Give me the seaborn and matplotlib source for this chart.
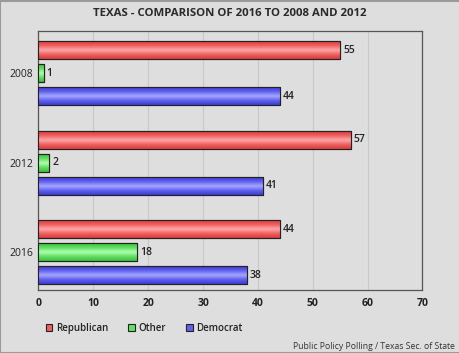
import matplotlib
matplotlib.use("Agg")
import matplotlib.pyplot as plt
import numpy as np
import pandas as pd
import seaborn as sns
from matplotlib.colors import LinearSegmentedColormap
from matplotlib.patches import Rectangle

# ---------------------------------------------------------------------------
# Data
# ---------------------------------------------------------------------------
YEARS = ["2008", "2012", "2016"]
PARTIES = ["Republican", "Other", "Democrat"]
REPUBLICAN = [55, 57, 44]
OTHER = [1, 2, 18]
DEMOCRAT = [44, 41, 38]

TITLE = "TEXAS - COMPARISON OF 2016 TO 2008 AND 2012"
SOURCE = "Public Policy Polling / Texas Sec. of State"

# base colour, light highlight, dark shade per party
COLORS = {
    "Republican": ("#f06060", "#ffa8a8", "#d83c3c"),
    "Other": ("#60e060", "#b0ffb0", "#3cc03c"),
    "Democrat": ("#6060f0", "#a8a8ff", "#3c3cd0"),
}
BG = "#dedede"

df = pd.DataFrame(
    {
        "year": YEARS * 3,
        "party": [p for p in PARTIES for _ in YEARS],
        "value": REPUBLICAN + OTHER + DEMOCRAT,
    }
)

sns.set_theme(style="white")
plt.rcParams["font.family"] = ["Open Sans", "DejaVu Sans"]

fig = plt.figure(figsize=(4.6, 3.53), dpi=100, facecolor=BG)
ax = fig.add_axes([38.5 / 460, 63 / 353, 384 / 460, 259 / 353])
ax.set_facecolor(BG)

sns.barplot(
    data=df,
    x="value",
    y="year",
    hue="party",
    hue_order=PARTIES,
    order=YEARS,
    orient="h",
    palette={p: c[0] for p, c in COLORS.items()},
    width=0.77,
    gap=0.22,
    edgecolor="#222222",
    linewidth=0.8,
    legend=False,
    ax=ax,
    zorder=3,
)

# glossy vertical gradient on each bar
for container, party in zip(ax.containers, PARTIES):
    base, light, dark = COLORS[party]
    cmap = LinearSegmentedColormap.from_list(party, [dark, base, light, base, dark])
    grad = np.linspace(0, 1, 64).reshape(-1, 1)
    for bar, val in zip(container, container.datavalues):
        x0, y0 = bar.get_x(), bar.get_y()
        w, h = bar.get_width(), bar.get_height()
        im = ax.imshow(grad, cmap=cmap, aspect="auto", extent=(x0, x0 + w, y0 + h, y0),
                       zorder=3.5, interpolation="bicubic")
        im.set_clip_path(bar)
        edge = Rectangle((x0, y0), w, h, fill=False, edgecolor="#222222", linewidth=0.8, zorder=4)
        ax.add_patch(edge)
        ax.text(x0 + w + 0.5, y0 + h / 2, f"{val:g}", va="center", ha="left",
                fontsize=7.5, fontweight="semibold", color="#222222", zorder=5)

ax.set_xlim(0, 70)
ax.set_ylim(2.42, -0.47)
ax.set_xticks(range(0, 71, 10))
ax.xaxis.grid(True, color="#c8c8c8", linewidth=0.8, zorder=0)
ax.set_axisbelow(True)
ax.set_xlabel("")
ax.set_ylabel("")
ax.tick_params(axis="x", length=0, pad=6, labelsize=7.5, labelcolor="#222222")
ax.tick_params(axis="y", length=0, pad=4, labelsize=7.5, labelcolor="#222222")
for lab in ax.get_xticklabels():
    lab.set_fontweight("bold")
for spine in ax.spines.values():
    spine.set_visible(True)
    spine.set_color("#555555")
    spine.set_linewidth(0.9)

fig.text(0.5, 0.963, TITLE, ha="center", va="center", fontsize=8.2,
         fontweight="bold", color="#2a2a2a")

handles = [Rectangle((0, 0), 1, 1, facecolor=COLORS[p][0], edgecolor="#222222", linewidth=0.8)
           for p in PARTIES]
fig.legend(handles, PARTIES, loc="center left", bbox_to_anchor=(0.08, 0.069), ncol=3,
           frameon=False, handlelength=0.7, handleheight=0.7,
           handletextpad=0.4, columnspacing=2.0, labelcolor="#222222",
           prop={"size": 7, "weight": "semibold"})

fig.text(0.988, 0.018, SOURCE, ha="right", va="center", fontsize=6.2, color="#333333")

border = Rectangle((0.001, 0.001), 0.998, 0.997, transform=fig.transFigure, fill=False,
                   edgecolor="#9a9a9a", linewidth=1.5)
fig.patches.append(border)

fig.savefig("out.png", dpi=100, facecolor=BG)
